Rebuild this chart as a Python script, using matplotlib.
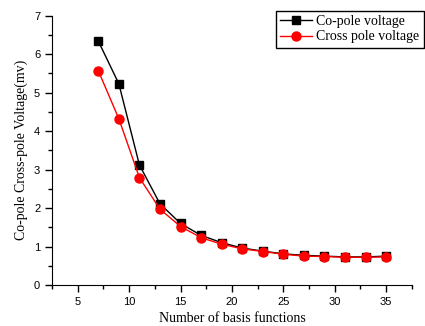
import matplotlib
matplotlib.use("Agg")
import matplotlib.pyplot as plt
from matplotlib.ticker import MultipleLocator

basis = [7, 9, 11, 13, 15, 17, 19, 21, 23, 25, 27, 29, 31, 33, 35]
co_pole = [6.34, 5.23, 3.12, 2.11, 1.60, 1.29, 1.10, 0.96, 0.88, 0.81, 0.77, 0.75, 0.73, 0.73, 0.75]
cross_pole = [5.57, 4.32, 2.79, 1.97, 1.52, 1.23, 1.06, 0.94, 0.87, 0.80, 0.75, 0.74, 0.72, 0.72, 0.73]

fig = plt.figure(figsize=(4.25, 3.26), dpi=100)
ax = fig.add_axes([0.1224, 0.1258, 0.8466, 0.8262])

ax.plot(basis, co_pole, color="black", marker="s", markersize=5.5, linewidth=1,
        label="Co-pole voltage")
ax.plot(basis, cross_pole, color="red", marker="o", markersize=6.5, linewidth=1,
        label="Cross pole voltage")

ax.set_xlim(2.5, 37.5)
ax.set_ylim(0, 7)
ax.xaxis.set_major_locator(MultipleLocator(5))
ax.xaxis.set_minor_locator(MultipleLocator(2.5))
ax.yaxis.set_major_locator(MultipleLocator(1))
ax.yaxis.set_minor_locator(MultipleLocator(0.5))

for side in ("top", "right"):
    ax.spines[side].set_visible(False)
ax.tick_params(which="major", direction="out", length=5, width=1, labelsize=8)
ax.tick_params(which="minor", direction="out", length=3, width=1)
for lbl in ax.get_xticklabels() + ax.get_yticklabels():
    lbl.set_fontfamily("Liberation Sans")

ax.set_xlabel("Number of basis functions", fontfamily="Liberation Serif", fontsize=10,
              labelpad=4)
ax.set_ylabel("Co-pole Cross-pole Voltage(mv)", fontfamily="Liberation Serif", fontsize=10)

leg = fig.legend(loc="upper right", bbox_to_anchor=(1.0, 0.972),
                 prop={"family": "Liberation Serif", "size": 10},
                 fancybox=False, edgecolor="black", framealpha=1,
                 handlelength=2.3, borderpad=0.3, labelspacing=0.2, handletextpad=0.3,
                 borderaxespad=0.1)
leg.get_frame().set_linewidth(1)

fig.savefig("out.png", dpi=100)
